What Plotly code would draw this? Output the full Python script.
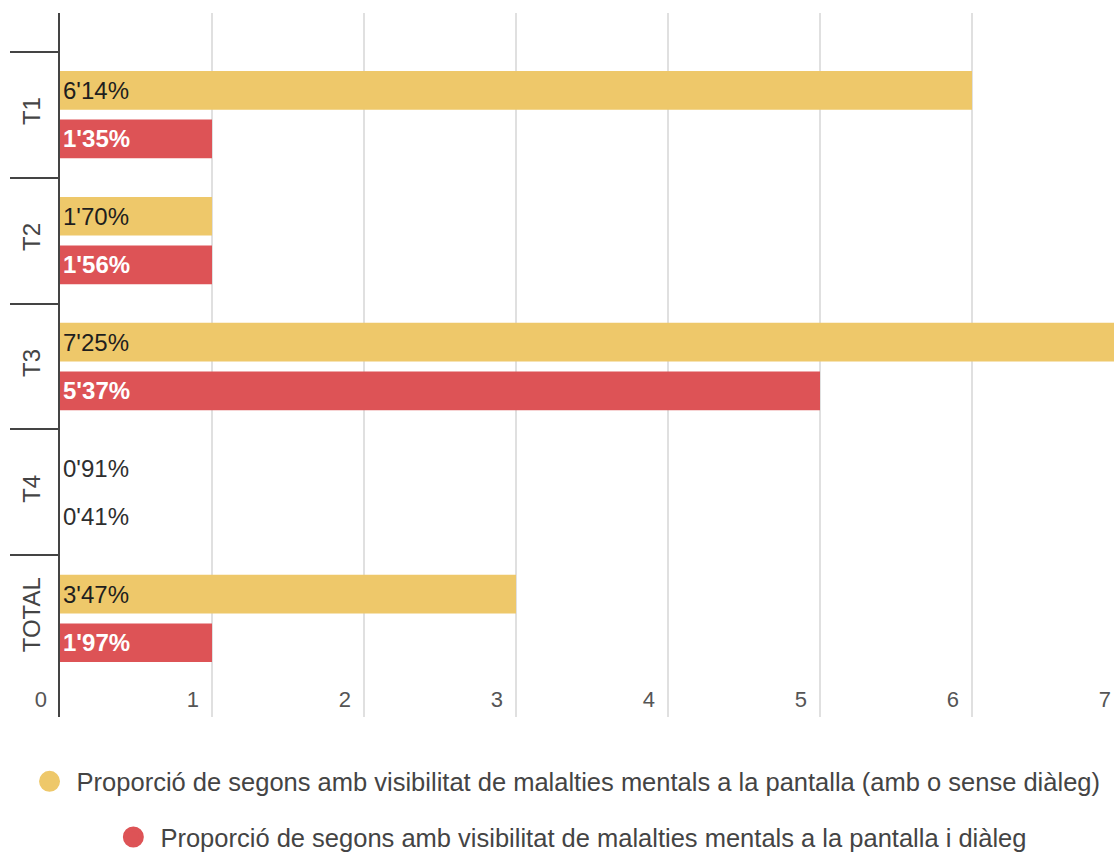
import plotly.graph_objects as go

# ---- data ----
categories = ["T1", "T2", "T3", "T4", "TOTAL"]
# bar lengths as drawn in the reference
bars_visibilitat = [6, 1, 7, 0, 3]
bars_dialeg = [1, 1, 5, 0, 1]
# value labels printed on the bars
labels_visibilitat = ["6'14%", "1'70%", "7'25%", "0'91%", "3'47%"]
labels_dialeg = ["1'35%", "1'56%", "5'37%", "0'41%", "1'97%"]
x_ticks = [0, 1, 2, 3, 4, 5, 6, 7]

name_visibilitat = "Proporció de segons amb visibilitat de malalties mentals a la pantalla (amb o sense diàleg)"
name_dialeg = "Proporció de segons amb visibilitat de malalties mentals a la pantalla i diàleg"

YELLOW = "#EEC86A"
RED = "#DD5356"
FONT = "Arial, Liberation Sans, sans-serif"

def positions(vals):
    return ["inside" if v > 0 else "outside" for v in vals]

fig = go.Figure()
fig.add_trace(go.Bar(
    y=categories, x=bars_visibilitat, orientation="h", marker_color=YELLOW,
    marker_line_width=0,
    text=labels_visibilitat, textposition=positions(bars_visibilitat),
    insidetextanchor="start", constraintext="none",
    insidetextfont=dict(family=FONT, size=24, color="#1e1e1e"),
    outsidetextfont=dict(family=FONT, size=24, color="#2e2e2e"),
    showlegend=False, hoverinfo="skip",
))
fig.add_trace(go.Bar(
    y=categories, x=bars_dialeg, orientation="h", marker_color=RED,
    marker_line_width=0,
    text=labels_dialeg, textposition=positions(bars_dialeg),
    insidetextanchor="start", constraintext="none",
    insidetextfont=dict(family=FONT, size=24, color="#ffffff", weight="bold"),
    outsidetextfont=dict(family=FONT, size=24, color="#2e2e2e"),
    showlegend=False, hoverinfo="skip",
))
# legend entries (circle symbols)
fig.add_trace(go.Scatter(
    x=[None], y=[None], mode="markers", name=" " + name_visibilitat,
    marker=dict(size=16, color=YELLOW, line=dict(width=5, color=YELLOW)),
    legend="legend",
))
fig.add_trace(go.Scatter(
    x=[None], y=[None], mode="markers", name=" " + name_dialeg,
    marker=dict(size=16, color=RED, line=dict(width=5, color=RED)),
    legend="legend2",
))

fig.update_layout(
    width=1124, height=861,
    margin=dict(l=60, r=0, t=13, b=142),
    plot_bgcolor="white", paper_bgcolor="white",
    font=dict(family=FONT, size=22, color="#444444"),
    barmode="group", bargap=0.227, bargroupgap=0.205,
    legend=dict(x=0.477, y=-0.092, xanchor="center", yanchor="middle",
                orientation="h", font=dict(family=FONT, size=25.5, color="#444444"),
                bgcolor="rgba(0,0,0,0)"),
    legend2=dict(x=0.482, y=-0.171, xanchor="center", yanchor="middle",
                 orientation="h", font=dict(family=FONT, size=25.5, color="#444444"),
                 bgcolor="rgba(0,0,0,0)"),
)
fig.update_xaxes(
    range=[0, 7], tickvals=x_ticks, showgrid=True, gridcolor="#e0e0e0",
    gridwidth=1.5, zeroline=False, showline=False, ticks="",
    ticklabelposition="inside left", ticklabeloverflow="allow",
    ticklabelshift=-13,
    tickfont=dict(family=FONT, size=22, color="#555555"),
)
fig.update_yaxes(
    type="category", categoryorder="array", categoryarray=categories,
    range=[4.783, -0.807], showgrid=False, zeroline=False,
    showline=True, linecolor="#444444", linewidth=2,
    ticks="outside", tickson="boundaries", ticklen=48, tickwidth=1.5,
    tickcolor="#444444", tickangle=-90, ticklabelstandoff=8,
    tickfont=dict(family=FONT, size=24, color="#444444"),
)

fig.write_html(
    "out.html",
    config={"displayModeBar": False},
    post_script="document.body.style.margin='0';document.body.style.overflow='hidden';"
                "document.documentElement.style.overflow='hidden';",
)
